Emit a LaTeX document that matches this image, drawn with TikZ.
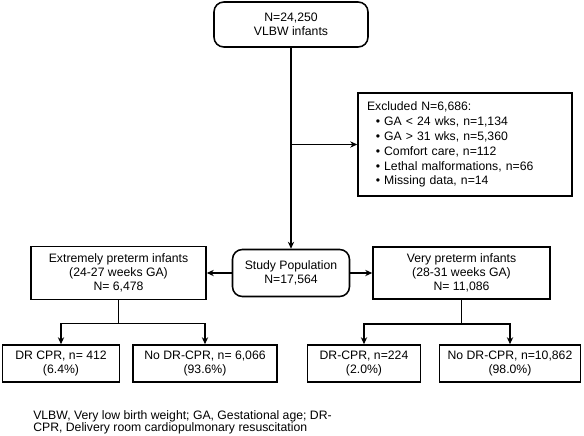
\documentclass[tikz,border=0pt]{standalone}
\usepackage{fontspec}
\setmainfont{Liberation Sans}
\usetikzlibrary{positioning, arrows.meta}
\tikzset{
    flowbox/.style={draw, line width=1.1pt, align=center, inner sep=2pt,
        font=\fontsize{8.7}{10}\selectfont},
    roundbox/.style={flowbox, rounded corners=7pt},
    flowline/.style={line width=1.1pt},
    flowarr/.style={flowline, -{Stealth[length=5pt, width=4.5pt]}}
}

\begin{document}
\begin{tikzpicture}
        \useasboundingbox (0, 0) rectangle (14.6, -10.875);
        \node[roundbox, minimum width=3.85cm, minimum height=1.125cm]
            (vlbw) at (7.275, -0.6125) {N=24,250\\VLBW infants};
        \node[flowbox, minimum width=5.35cm, minimum height=2.575cm,
              text width=4.9cm, inner xsep=0.225cm, align=left,
              font=\fontsize{8.7}{10.6}\selectfont]
            (excl) at (11.625, -3.6125)
            {Excluded N=6,686:\\
             \hspace*{0.22cm}\textbullet\ GA < 24 wks, n=1,134\\
             \hspace*{0.22cm}\textbullet\ GA > 31 wks, n=5,360\\
             \hspace*{0.22cm}\textbullet\ Comfort care, n=112\\
             \hspace*{0.22cm}\textbullet\ Lethal malformations, n=66\\
             \hspace*{0.22cm}\textbullet\ Missing data, n=14};
        \node[roundbox, minimum width=2.925cm, minimum height=1.175cm]
            (study) at (7.275, -6.825) {Study Population\\N=17,564};
        \node[flowbox, minimum width=4.375cm, minimum height=1.325cm]
            (extreme) at (2.9625, -6.825)
            {Extremely preterm infants\\(24-27 weeks GA)\\N= 6,478};
        \node[flowbox, minimum width=4.425cm, minimum height=1.3cm]
            (very) at (11.5375, -6.825)
            {Very preterm infants\\(28-31 weeks GA)\\N= 11,086};
        \node[flowbox, minimum width=2.925cm, minimum height=0.925cm]
            (extcpr) at (1.525, -9.0875) {DR CPR, n= 412\\(6.4\%)};
        \node[flowbox, minimum width=3.6cm, minimum height=0.925cm]
            (extnocpr) at (5.125, -9.0875) {No DR-CPR, n= 6,066\\(93.6\%)};
        \node[flowbox, minimum width=2.825cm, minimum height=0.925cm]
            (verycpr) at (9.1, -9.0875) {DR-CPR, n=224\\(2.0\%)};
        \node[flowbox, minimum width=3.525cm, minimum height=0.925cm]
            (verynocpr) at (12.75, -9.0875) {No DR-CPR, n=10,862\\(98.0\%)};
        \node[anchor=north west, align=left, inner sep=0pt,
              font=\fontsize{8.7}{8.4}\selectfont] (note) at (0.825, -10.27)
            {VLBW, Very low birth weight; GA, Gestational age; DR-\\
             CPR, Delivery room cardiopulmonary resuscitation};

        \draw[flowarr] (vlbw) -- (study);
        \draw[flowarr] (vlbw.south |- excl.west) -- (excl.west);
        \draw[flowarr] (study) -- (extreme);
        \draw[flowarr] (study) -- (very);
        \draw[flowline] (extreme.south) -- ++(0, -0.575) coordinate (extjoin);
        \draw[flowarr] (extjoin) -| (extcpr);
        \draw[flowarr] (extjoin) -| (extnocpr);
        \draw[flowline] (very.south) -- ++(0, -0.6) coordinate (veryjoin);
        \draw[flowarr] (veryjoin) -| (verycpr);
        \draw[flowarr] (veryjoin) -| (verynocpr);
    \end{tikzpicture}
\end{document}
